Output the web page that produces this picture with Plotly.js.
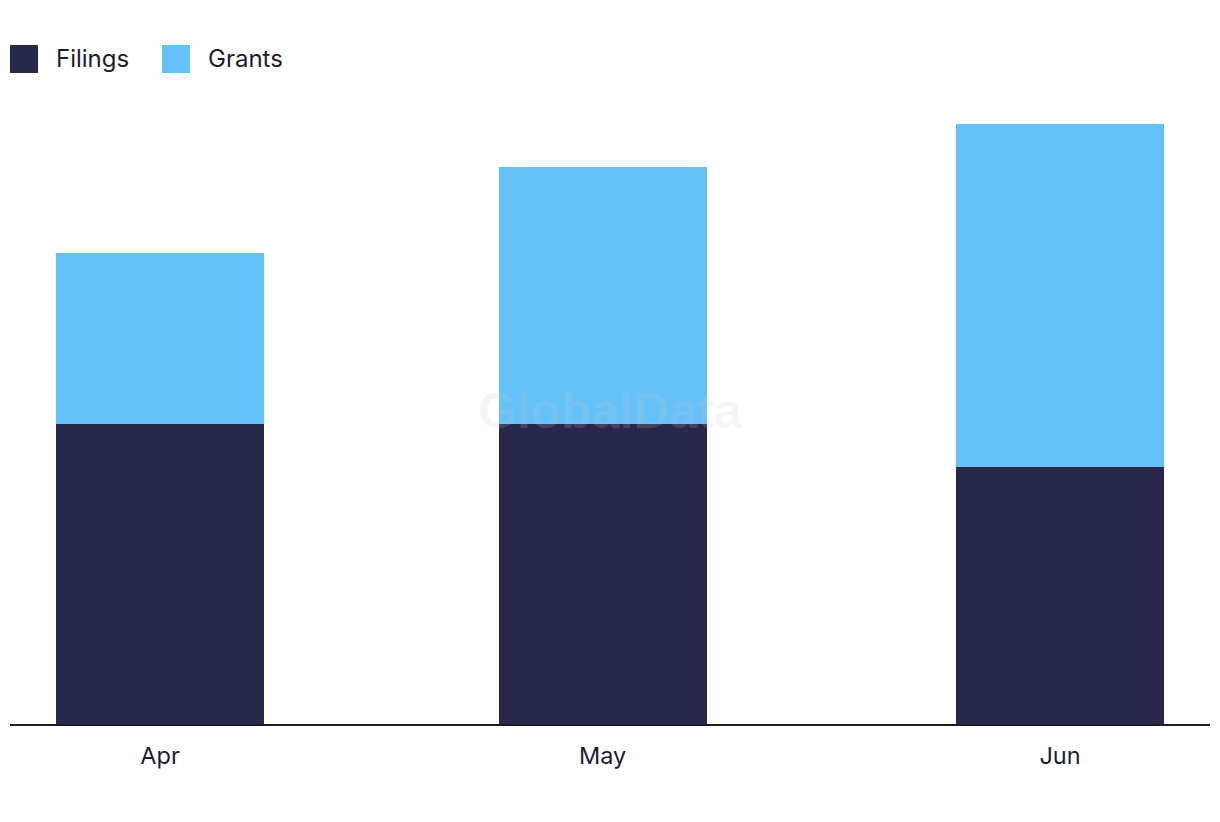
<!DOCTYPE html>
<html>
<head>
<meta charset="utf-8">
<script src="https://cdn.plot.ly/plotly-3.0.1.min.js"></script>
<style>html,body{margin:0;padding:0;background:#fff;}#chart{width:1220px;height:822px;}</style>
</head>
<body>
<div id="chart"></div>
<script>
const months = ['2023-04-01', '2023-05-01', '2023-06-01'];
const monthLabels = ['Apr', 'May', 'Jun'];
const seriesNames = ['Filings', 'Grants'];
const filings = [7, 7, 6];
const grants = [4, 6, 8];
const colors = ['#28284B', '#63C1F8'];

const barWidth = 14.1 * 86400000;
const textColor = '#1C1C33';

const traces = [
  {type: 'bar', x: months, y: filings, name: seriesNames[0], marker: {color: colors[0]}, width: barWidth, showlegend: false, hoverinfo: 'skip'},
  {type: 'bar', x: months, y: grants, name: seriesNames[1], marker: {color: colors[1]}, width: barWidth, showlegend: false, hoverinfo: 'skip'}
];

const W = 1200, H = 624, L = 10, B = 724;
function px(x){ return (x - L) / W; }
function py(y){ return (B - y) / H; }

const legendSq = [[10, 38], [162, 190]];
const legendTx = [54, 206];
const shapes = [];
const annotations = [];
seriesNames.forEach((n, i) => {
  shapes.push({type: 'rect', xref: 'paper', yref: 'paper', x0: px(legendSq[i][0]), x1: px(legendSq[i][1]), y0: py(73), y1: py(45), fillcolor: colors[i], line: {width: 0}});
  annotations.push({xref: 'paper', yref: 'paper', x: px(legendTx[i]), y: py(58), xanchor: 'left', yanchor: 'middle', text: n, showarrow: false, font: {family: 'Inter, "Noto Sans", sans-serif', size: 24, color: textColor}});
});
annotations.push({xref: 'paper', yref: 'paper', x: px(610), y: py(411), xanchor: 'center', yanchor: 'middle', text: '<b>GlobalData</b>', showarrow: false, font: {family: '"Liberation Sans", Arial, sans-serif', size: 50, color: 'rgba(200,200,200,0.18)'}});

const layout = {
  width: 1220, height: 822,
  margin: {l: 10, r: 10, t: 100, b: 98, pad: 0},
  paper_bgcolor: '#ffffff', plot_bgcolor: '#ffffff',
  barmode: 'stack',
  showlegend: false,
  xaxis: {
    type: 'date',
    range: ['2023-03-21 20:00', '2023-06-11 04:00'],
    tickvals: months, ticktext: monthLabels,
    showgrid: false, zeroline: false,
    showline: true, linecolor: '#1C1C33', linewidth: 2,
    ticks: '', ticklabelstandoff: 10,
    tickfont: {family: 'Inter, "Noto Sans", sans-serif', size: 23.5, color: textColor}
  },
  yaxis: {range: [0, 14.56], visible: false, showgrid: false, zeroline: false, fixedrange: true},
  shapes: shapes,
  annotations: annotations
};

Plotly.newPlot('chart', traces, layout, {displayModeBar: false, staticPlot: true});
</script>
</body>
</html>
